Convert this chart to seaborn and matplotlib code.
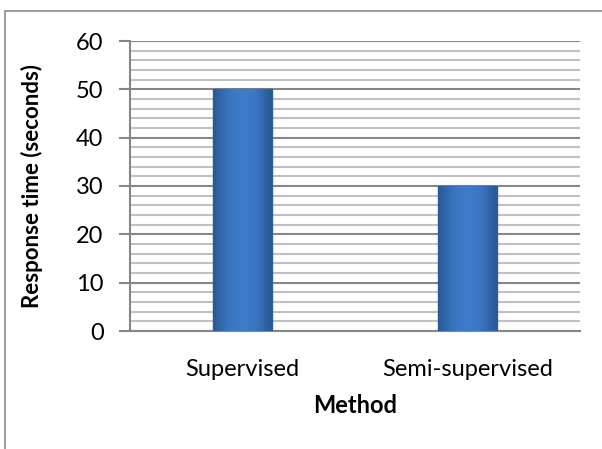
import numpy as np
import pandas as pd
import matplotlib
matplotlib.use("Agg")
import matplotlib.pyplot as plt
import seaborn as sns
from matplotlib.patches import Rectangle
from matplotlib.ticker import MultipleLocator
from matplotlib.colors import LinearSegmentedColormap

# Chart data
methods = ["Supervised", "Semi-supervised"]
response_times = [50, 30]

df = pd.DataFrame({"Method": methods, "Response time (seconds)": response_times})

sns.set_theme(style="white")
plt.rcParams["font.family"] = ["Lato", "DejaVu Sans"]

fig = plt.figure(figsize=(6.02, 4.49), dpi=100)
ax = fig.add_axes([130 / 602, 1 - 331 / 449, 450 / 602, 290 / 449])

sns.barplot(data=df, x="Method", y="Response time (seconds)", color="#3C78C6",
            saturation=1, width=0.26, edgecolor="#2D5F9F", linewidth=1.0,
            ax=ax, zorder=3)

# bevel-like shading across each bar
bevel = LinearSegmentedColormap.from_list(
    "bevel", ["#2A5895", "#3A74C0", "#3F7DCB", "#3A74C0", "#2A5895"])
grad = np.linspace(0, 1, 64).reshape(1, -1)
for bar in ax.patches:
    x0, w, h = bar.get_x(), bar.get_width(), bar.get_height()
    im = ax.imshow(grad, cmap=bevel, aspect="auto", extent=(x0, x0 + w, 0, h),
                   zorder=3.5)
    im.set_clip_path(bar)
ax.set_xlim(-0.5, 1.5)

ax.set_ylim(0, 60)
ax.yaxis.set_major_locator(MultipleLocator(10))
ax.yaxis.set_minor_locator(MultipleLocator(2))
ax.grid(which="major", axis="y", color="#868686", linewidth=1.5, zorder=0)
ax.grid(which="minor", axis="y", color="#C0C0C0", linewidth=1.5, zorder=0)
ax.set_axisbelow(True)

for s in ["top", "right"]:
    ax.spines[s].set_visible(False)
for s in ["left", "bottom"]:
    ax.spines[s].set_color("#868686")
    ax.spines[s].set_linewidth(1.5)

ax.tick_params(axis="y", which="major", left=True, length=8, width=1.5,
               color="#868686", labelsize=17, pad=11, labelcolor="black")
ax.tick_params(axis="y", which="minor", left=False)
ax.tick_params(axis="x", bottom=False, labelsize=17, pad=14, labelcolor="black")

ax.set_xlabel("Method", fontsize=17, fontweight="bold", labelpad=10, color="black")
ax.set_ylabel("Response time (seconds)", fontsize=16, fontweight="bold",
              labelpad=24, color="black")

# outer chart border
fig.patches.append(Rectangle((5 / 602, -0.1), 1.2, 1 - 11 / 449 + 0.1,
                             transform=fig.transFigure, fill=False,
                             edgecolor="#8C8C8C", linewidth=1.2))

fig.savefig("out.png", dpi=100)
